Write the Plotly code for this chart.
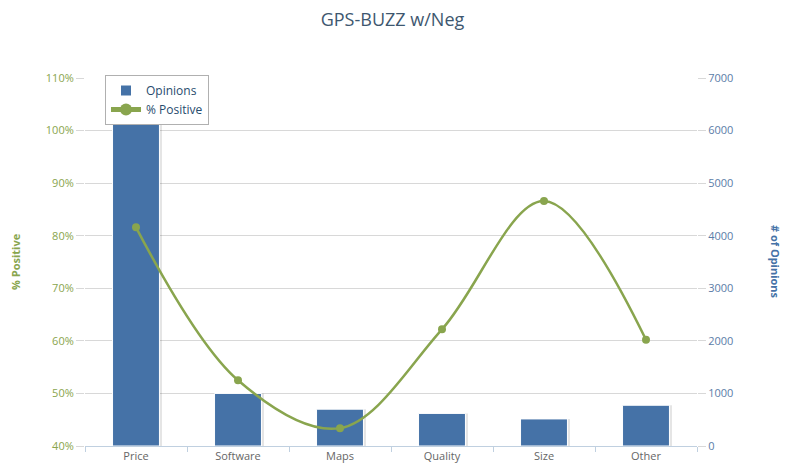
import plotly.graph_objects as go

# Categories and series
categories = ["Price", "Software", "Maps", "Quality", "Size", "Other"]
opinions = [7600, 1000, 700, 620, 515, 775]          # # of Opinions (right axis)
pct_positive = [81.6, 52.5, 43.4, 62.2, 86.6, 60.2]   # % Positive (left axis)

BLUE = "#4572A7"
GREEN = "#89A54E"
GRID = "#D8D8D8"
FONT = "Open Sans"

W, H = 785, 463
L, R, T, B = 85, 88, 78, 17
plot_w = W - L - R

bar_w = 0.46

fig = go.Figure()

# soft drop shadow behind each bar
fig.add_trace(go.Bar(
    x=categories, y=opinions, yaxis="y",
    width=bar_w, offset=-bar_w / 2 + 0.025,
    marker=dict(color="rgba(0,0,0,0.10)", line=dict(width=0)),
    showlegend=False, hoverinfo="skip",
))

fig.add_trace(go.Bar(
    x=categories, y=opinions, yaxis="y", name="Opinions",
    width=bar_w, offset=-bar_w / 2,
    marker=dict(color=BLUE, line=dict(color="white", width=1)),
))

# percentage line sits on the overlaying axis so it is drawn above the bars
fig.add_trace(go.Scatter(
    x=categories, y=pct_positive, yaxis="y2", name="% Positive",
    mode="lines+markers",
    line=dict(color=GREEN, width=2.5, shape="spline", smoothing=1.0),
    marker=dict(color=GREEN, size=8),
))

fig.update_layout(
    width=W, height=H,
    margin=dict(l=L, r=R, t=T, b=B, pad=0),
    paper_bgcolor="white", plot_bgcolor="white",
    barmode="overlay",
    font=dict(family=FONT, size=11, color="#4d4d4d"),
    title=dict(
        text="GPS-BUZZ w/Neg", x=0.5, xanchor="center",
        y=1 - 20 / H, yanchor="middle",
        font=dict(family=FONT, size=18, color="#3E576F"),
    ),
    xaxis=dict(
        type="category", showgrid=False, automargin=False,
        showline=True, linecolor="#C0D0E0", linewidth=1,
        ticks="outside", tickson="boundaries", ticklen=5, tickcolor="#C0D0E0",
        tickfont=dict(family=FONT, size=11, color="#666666"),
        zeroline=False,
    ),
    # opinions: primary axis, drawn on the right
    yaxis=dict(
        range=[0, 7000], dtick=1000, side="right", automargin=False,
        showgrid=True, gridcolor=GRID, gridwidth=1,
        ticks="outside", ticklen=8, tickcolor=GRID,
        tickfont=dict(family=FONT, size=11, color="#5B7DA8"),
        zeroline=False, showline=False,
    ),
    # % positive: overlaying axis on the left
    yaxis2=dict(
        range=[40, 110], dtick=10, ticksuffix="%", overlaying="y", side="left",
        automargin=False, showgrid=False,
        ticks="outside", ticklen=8, tickcolor=GRID,
        tickfont=dict(family=FONT, size=11, color=GREEN),
        zeroline=False, showline=False,
    ),
    legend=dict(
        x=(105 - L) / plot_w, y=1 + 3 / (H - T - B),
        xanchor="left", yanchor="top",
        bgcolor="white", bordercolor="#B0B0B0", borderwidth=1,
        font=dict(family=FONT, size=12, color="#274B6D"),
        itemsizing="constant", itemwidth=30, tracegroupgap=0,
        traceorder="normal",
    ),
    annotations=[
        dict(text="<b>% Positive</b>", xref="paper", yref="paper",
             x=(15 - L) / plot_w, y=0.5, xanchor="center", yanchor="middle",
             showarrow=False, textangle=-90,
             font=dict(family=FONT, size=11, color=GREEN)),
        dict(text="<b># of Opinions</b>", xref="paper", yref="paper",
             x=(776 - L) / plot_w, y=0.5, xanchor="center", yanchor="middle",
             showarrow=False, textangle=90,
             font=dict(family=FONT, size=11, color=BLUE)),
    ],
)

fig.write_html("out.html")
